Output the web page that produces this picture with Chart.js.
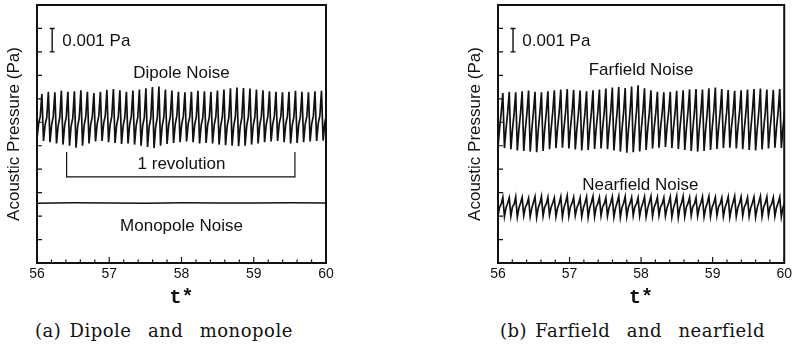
<!DOCTYPE html>
<html>
<head>
<meta charset="utf-8">
<script src="https://cdn.jsdelivr.net/npm/chart.js@4"></script>
<style>
  body { margin: 0; background: #fff; width: 795px; height: 354px; position: relative; overflow: hidden; }
  #left { position: absolute; left: 0; top: 0; }
  #right { position: absolute; left: 400px; top: 0; }
  .cap { position: absolute; top: 321px; line-height: 20px; font-family: "DejaVu Serif", "Liberation Serif", serif;
         font-size: 18px; letter-spacing: 0.5px; word-spacing: 2px; color: #111; white-space: pre; }
</style>
</head>
<body>
<canvas id="left" width="400" height="310"></canvas>
<canvas id="right" width="395" height="310"></canvas>
<div class="cap" style="left:35px">(a) Dipole  and  monopole</div>
<div class="cap" style="left:500px">(b) Farfield  and  nearfield</div>
<script>
// pressures are in mPa (one y tick = 0.001 Pa); signals sampled every DT from T0
const T0 = 56;
const DT = 0.0225;

// one row per blade-passage cycle: trough, rise, kink, peak
const dipole = [
  5.30, 5.95, 6.25, 7.20,  5.20, 5.90, 6.20, 7.30,  5.15, 5.90, 6.25, 7.28,  5.10, 5.85, 6.20, 7.35,
  5.05, 5.88, 6.22, 7.30,  5.00, 5.85, 6.18, 7.32,  4.92, 5.82, 6.20, 7.36,  5.00, 5.86, 6.24, 7.30,
  5.10, 5.90, 6.22, 7.25,  5.18, 5.92, 6.26, 7.30,  5.20, 5.95, 6.28, 7.38,  5.15, 5.90, 6.25, 7.42,
  5.12, 5.88, 6.22, 7.36,  5.08, 5.86, 6.20, 7.30,  5.10, 5.90, 6.24, 7.35,  5.05, 5.86, 6.22, 7.40,
  5.00, 5.85, 6.20, 7.45,  4.95, 5.82, 6.18, 7.50,  4.90, 5.80, 6.20, 7.52,  5.00, 5.84, 6.22, 7.40,
  5.08, 5.88, 6.24, 7.35,  5.12, 5.90, 6.26, 7.30,  5.15, 5.92, 6.25, 7.28,  5.18, 5.93, 6.24, 7.30,
  5.15, 5.90, 6.22, 7.34,  5.10, 5.88, 6.20, 7.32,  5.12, 5.90, 6.22, 7.30,  5.10, 5.88, 6.24, 7.35,
  5.05, 5.86, 6.22, 7.40,  5.02, 5.85, 6.20, 7.45,  5.00, 5.84, 6.22, 7.48,  4.98, 5.82, 6.20, 7.46,
  5.00, 5.84, 6.24, 7.44,  5.05, 5.86, 6.22, 7.40,  5.10, 5.88, 6.24, 7.36,  5.15, 5.90, 6.25, 7.32,
  5.18, 5.92, 6.26, 7.30,  5.20, 5.94, 6.25, 7.28,  5.15, 5.92, 6.24, 7.30,  5.10, 5.88, 6.22, 7.34,
  5.12, 5.90, 6.24, 7.30,  5.15, 5.92, 6.25, 7.28,  5.18, 5.94, 6.26, 7.32,  5.20, 5.95, 6.28, 7.34,
  5.22, 5.96, 6.30, 7.30
];

const monopoleT = [56, 56.5, 57, 57.5, 58, 58.5, 59, 59.5, 60];
const monopole = [2.55, 2.57, 2.56, 2.55, 2.57, 2.56, 2.56, 2.57, 2.56];

const farfield = [
  4.95, 5.75, 6.40, 7.25,  4.90, 5.72, 6.42, 7.30,  4.85, 5.70, 6.38, 7.28,  4.80, 5.68, 6.40, 7.32,
  4.78, 5.70, 6.42, 7.35,  4.75, 5.68, 6.44, 7.30,  4.72, 5.66, 6.40, 7.28,  4.78, 5.70, 6.42, 7.32,
  4.85, 5.72, 6.45, 7.36,  4.90, 5.75, 6.44, 7.40,  4.92, 5.76, 6.46, 7.42,  4.88, 5.74, 6.44, 7.38,
  4.84, 5.72, 6.42, 7.35,  4.80, 5.70, 6.40, 7.32,  4.82, 5.72, 6.42, 7.36,  4.86, 5.74, 6.44, 7.40,
  4.88, 5.76, 6.46, 7.44,  4.85, 5.74, 6.45, 7.48,  4.80, 5.70, 6.44, 7.50,  4.75, 5.68, 6.42, 7.46,
  4.70, 5.66, 6.44, 7.52,  4.72, 5.68, 6.46, 7.58,  4.76, 5.70, 6.44, 7.45,  4.82, 5.72, 6.42, 7.36,
  4.88, 5.75, 6.40, 7.30,  4.92, 5.78, 6.42, 7.28,  4.95, 5.80, 6.44, 7.30,  4.90, 5.76, 6.42, 7.34,
  4.86, 5.74, 6.44, 7.36,  4.82, 5.72, 6.46, 7.40,  4.78, 5.70, 6.44, 7.42,  4.75, 5.68, 6.42, 7.40,
  4.78, 5.70, 6.44, 7.45,  4.82, 5.72, 6.46, 7.48,  4.86, 5.74, 6.44, 7.42,  4.90, 5.76, 6.42, 7.38,
  4.92, 5.78, 6.40, 7.34,  4.88, 5.75, 6.42, 7.36,  4.85, 5.72, 6.44, 7.40,  4.82, 5.70, 6.46, 7.42,
  4.80, 5.70, 6.44, 7.44,  4.84, 5.72, 6.42, 7.40,  4.88, 5.74, 6.44, 7.38,  4.92, 5.76, 6.46, 7.42,
  4.90, 5.75, 6.44, 7.40
];

const nearfield = [
  2.02, 2.38, 2.52, 2.80,  1.98, 2.36, 2.55, 2.78,  2.00, 2.40, 2.50, 2.82,  1.96, 2.35, 2.56, 2.80,
  2.02, 2.38, 2.52, 2.76,  1.98, 2.34, 2.58, 2.82,  1.95, 2.36, 2.54, 2.84,  2.00, 2.40, 2.52, 2.80,
  2.04, 2.38, 2.56, 2.78,  1.98, 2.35, 2.54, 2.82,  1.96, 2.37, 2.58, 2.86,  2.00, 2.40, 2.55, 2.80,
  2.02, 2.36, 2.52, 2.78,  1.97, 2.34, 2.56, 2.82,  1.94, 2.36, 2.58, 2.84,  1.98, 2.38, 2.54, 2.80,
  2.02, 2.40, 2.52, 2.78,  2.00, 2.36, 2.56, 2.82,  1.96, 2.35, 2.58, 2.85,  1.95, 2.37, 2.55, 2.83,
  1.98, 2.38, 2.54, 2.80,  2.02, 2.40, 2.52, 2.78,  2.00, 2.36, 2.56, 2.82,  1.97, 2.34, 2.58, 2.84,
  1.99, 2.38, 2.55, 2.80,  2.03, 2.40, 2.52, 2.78,  2.00, 2.36, 2.56, 2.82,  1.96, 2.35, 2.58, 2.86,
  1.94, 2.36, 2.56, 2.84,  1.98, 2.38, 2.54, 2.80,  2.02, 2.40, 2.52, 2.78,  2.00, 2.37, 2.56, 2.82,
  1.97, 2.35, 2.57, 2.84,  1.99, 2.38, 2.55, 2.80,  2.02, 2.40, 2.52, 2.78,  1.98, 2.36, 2.56, 2.82,
  1.95, 2.34, 2.58, 2.85,  1.98, 2.37, 2.55, 2.82,  2.01, 2.39, 2.53, 2.79,  1.99, 2.36, 2.56, 2.81,
  1.96, 2.35, 2.58, 2.84,  1.98, 2.38, 2.55, 2.82,  2.02, 2.40, 2.52, 2.79,  2.00, 2.37, 2.56, 2.81,
  1.97, 2.36, 2.57, 2.83
];

const INK = '#111';
const SANS = '"Liberation Sans", Arial, sans-serif';
Chart.defaults.font.family = SANS;
Chart.defaults.color = INK;

const sampled = vals => vals.map((v, i) => ({ x: T0 + i * DT, y: v }));
const isWhole = v => Math.abs(v - Math.round(v)) < 1e-6;

// frame, inward ticks, scale bar, bracket and in-plot labels
const panelMarks = {
  id: 'panelMarks',
  afterDatasetsDraw(chart, args, opts) {
    const { ctx, chartArea: a, scales: { x, y } } = chart;
    ctx.save();
    ctx.strokeStyle = INK;
    ctx.fillStyle = INK;
    ctx.lineWidth = 1.2;
    ctx.beginPath();
    x.ticks.forEach(t => {
      const px = x.getPixelForValue(t.value);
      const len = isWhole(t.value) ? 6 : 3.5;
      ctx.moveTo(px, a.bottom); ctx.lineTo(px, a.bottom - len);
    });
    y.ticks.forEach(t => {
      const py = y.getPixelForValue(t.value);
      ctx.moveTo(a.left, py); ctx.lineTo(a.left + 5, py);
    });
    ctx.stroke();
    ctx.lineWidth = 2;
    ctx.strokeRect(a.left, a.top, a.width, a.height);

    const sb = opts.scaleBar;
    const bx = x.getPixelForValue(sb.x);
    const b0 = y.getPixelForValue(sb.from), b1 = y.getPixelForValue(sb.to);
    ctx.lineWidth = 1.4;
    ctx.beginPath();
    ctx.moveTo(bx, b0); ctx.lineTo(bx, b1);
    ctx.moveTo(bx - 2.5, b0); ctx.lineTo(bx + 2.5, b0);
    ctx.moveTo(bx - 2.5, b1); ctx.lineTo(bx + 2.5, b1);
    ctx.stroke();

    if (opts.bracket) {
      const br = opts.bracket;
      const l = x.getPixelForValue(br.x0), r = x.getPixelForValue(br.x1);
      const top = y.getPixelForValue(br.top), bot = y.getPixelForValue(br.bottom);
      ctx.lineWidth = 1.2;
      ctx.beginPath();
      ctx.moveTo(l, top); ctx.lineTo(l, bot); ctx.lineTo(r, bot); ctx.lineTo(r, top);
      ctx.stroke();
    }

    ctx.font = '17px ' + SANS;
    ctx.textBaseline = 'middle';
    opts.labels.forEach(lb => {
      ctx.textAlign = lb.align || 'center';
      ctx.fillText(lb.text, x.getPixelForValue(lb.x), y.getPixelForValue(lb.y));
    });
    ctx.restore();
  }
};

function makePanel(id, datasets, marks, padLeft, padRight) {
  return new Chart(document.getElementById(id), {
    type: 'line',
    data: { datasets },
    options: {
      responsive: false,
      animation: false,
      layout: { padding: { left: padLeft, right: padRight, top: 5, bottom: 0 } },
      elements: { point: { radius: 0 }, line: { tension: 0, borderWidth: 1.7, borderColor: INK } },
      plugins: { legend: { display: false }, tooltip: { enabled: false }, panelMarks: marks },
      scales: {
        x: {
          type: 'linear', min: 56, max: 60,
          grid: { display: false, drawTicks: false },
          border: { display: false },
          ticks: {
            stepSize: 0.2, autoSkip: false, maxRotation: 0, padding: 3,
            font: { size: 14 }, color: INK,
            callback: v => isWhole(v) ? String(Math.round(v)) : ''
          },
          title: {
            display: true, text: 't*', color: INK,
            font: { family: '"Liberation Mono", "DejaVu Sans Mono", monospace', size: 20, weight: 'bold' },
            padding: { top: 1, bottom: 0 }
          },
          afterFit: s => { s.height = 47; }
        },
        y: {
          min: 0, max: 11,
          grid: { display: false, drawTicks: false },
          border: { display: false },
          ticks: { stepSize: 1, display: false },
          title: { display: true, text: 'Acoustic Pressure (Pa)', color: INK, font: { size: 17 } },
          afterFit: s => { s.width = 37; }
        }
      }
    },
    plugins: [panelMarks]
  });
}

makePanel('left', [
  { label: 'Dipole Noise', data: sampled(dipole) },
  { label: 'Monopole Noise', data: monopoleT.map((t, i) => ({ x: t, y: monopole[i] })), borderWidth: 1.6 }
], {
  scaleBar: { x: 56.21, from: 9, to: 10 },
  bracket: { x0: 56.41, x1: 59.57, top: 4.73, bottom: 3.67 },
  labels: [
    { text: '0.001 Pa', x: 56.35, y: 9.45, align: 'left' },
    { text: 'Dipole Noise', x: 58.0, y: 8.1 },
    { text: '1 revolution', x: 58.0, y: 4.22 },
    { text: 'Monopole Noise', x: 58.0, y: 1.58 }
  ]
}, 0, 74);

makePanel('right', [
  { label: 'Farfield Noise', data: sampled(farfield) },
  { label: 'Nearfield Noise', data: sampled(nearfield) }
], {
  scaleBar: { x: 56.21, from: 9, to: 10 },
  labels: [
    { text: '0.001 Pa', x: 56.34, y: 9.45, align: 'left' },
    { text: 'Farfield Noise', x: 58.0, y: 8.23 },
    { text: 'Nearfield Noise', x: 57.99, y: 3.33 }
  ]
}, 61, 8);
</script>
</body>
</html>
